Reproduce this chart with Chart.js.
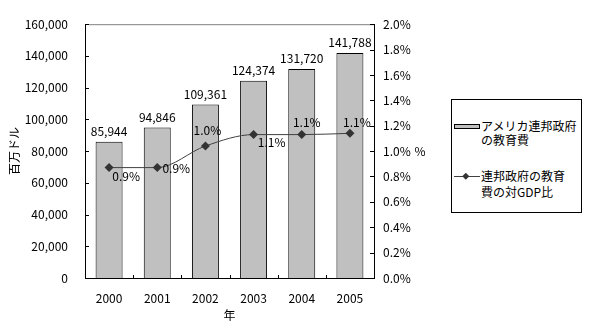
<!DOCTYPE html>
<html lang="ja">
<head>
    <meta charset="UTF-8">
    <title>アメリカ連邦政府の教育費</title>
    <script src="https://cdn.jsdelivr.net/npm/chart.js"></script>
    <style>
        body { margin: 0; background: #fff; font-family: "Noto Sans CJK JP", sans-serif; color: #000; }
        .wrap { position: relative; width: 594px; height: 331px; }
        .legend {
            position: absolute; left: 451px; top: 99px; width: 131px; height: 114px;
            border: 1px solid #000; box-sizing: border-box; background: #fff;
            font-size: 12px; line-height: 14px;
        }
        .legend .row { position: absolute; left: 29px; white-space: nowrap; }
        .legend .key { position: absolute; left: 1px; }
    </style>
</head>
<body>
<div class="wrap">
    <canvas id="chart" width="594" height="331"></canvas>
    <div class="legend">
        <svg class="key" style="top:23px" width="28" height="8">
            <rect x="1.5" y="1.5" width="25" height="4" fill="#c0c0c0" stroke="#000" stroke-width="1"/>
        </svg>
        <div class="row" style="top:19px">アメリカ連邦政府</div>
        <div class="row" style="top:33px">の教育費</div>
        <svg class="key" style="top:71px" width="28" height="10">
            <line x1="1" y1="5.5" x2="27" y2="5.5" stroke="#404040" stroke-width="1"/>
            <rect x="11" y="2" width="5" height="5" fill="#333" transform="rotate(45 13.5 4.5) translate(0 1)"/>
        </svg>
        <div class="row" style="top:69px">連邦政府の教育</div>
        <div class="row" style="top:85px">費の対GDP比</div>
    </div>
</div>
<script>
    // 年度と連邦政府の教育費（百万ドル）、対GDP比（%）
    const years = ['2000', '2001', '2002', '2003', '2004', '2005'];
    const spending = [85944, 94846, 109361, 124374, 131720, 141788];
    const gdpShare = [0.87, 0.87, 1.04, 1.13, 1.13, 1.14];
    const spendingTicks = [0, 20000, 40000, 60000, 80000, 100000, 120000, 140000, 160000];
    const shareTicks = [0, 0.2, 0.4, 0.6, 0.8, 1.0, 1.2, 1.4, 1.6, 1.8, 2.0];

    Chart.defaults.font.family = '"Noto Sans CJK JP", sans-serif';
    Chart.defaults.font.size = 12;
    Chart.defaults.color = '#000';

    // 値ラベル、内向きの目盛り、上辺の線、右軸の「%」
    const decorations = {
        id: 'decorations',
        afterDatasetsDraw(chart, args, opts) {
            const ctx = chart.ctx;
            ctx.save();
            ctx.font = '12px "Noto Sans CJK JP"';
            ctx.fillStyle = '#000';
            ctx.textAlign = 'center';

            ctx.textBaseline = 'alphabetic';
            chart.getDatasetMeta(0).data.forEach((bar, i) => {
                ctx.fillText(spending[i].toLocaleString('en-US'), bar.x, bar.y - 6);
            });

            ctx.textBaseline = 'middle';
            chart.getDatasetMeta(1).data.forEach((pt, i) => {
                const [dx, dy] = opts.lineLabelOffsets[i];
                ctx.fillText(gdpShare[i].toFixed(1) + '%', pt.x + dx, pt.y + dy);
            });
            ctx.restore();
        },
        afterDraw(chart) {
            const ctx = chart.ctx;
            const area = chart.chartArea;
            const x = chart.scales.x, y = chart.scales.y, y1 = chart.scales.y1;
            ctx.save();
            ctx.lineWidth = 1;

            ctx.strokeStyle = '#808080';
            ctx.beginPath();
            ctx.moveTo(area.left + 4, area.top + 0.5);
            ctx.lineTo(area.right, area.top + 0.5);
            ctx.stroke();

            ctx.strokeStyle = '#000';
            ctx.beginPath();
            ctx.moveTo(area.left, Math.round(area.bottom) + 0.5);
            ctx.lineTo(area.right, Math.round(area.bottom) + 0.5);
            y.ticks.forEach((t, i) => {
                const py = Math.round(y.getPixelForTick(i)) + 0.5;
                ctx.moveTo(area.left, py);
                ctx.lineTo(area.left + 4, py);
            });
            y1.ticks.forEach((t, i) => {
                const py = Math.round(y1.getPixelForTick(i)) + 0.5;
                ctx.moveTo(area.right - 4, py);
                ctx.lineTo(area.right, py);
            });
            for (let i = 0; i < years.length - 1; i++) {
                const px = Math.round((x.getPixelForValue(i) + x.getPixelForValue(i + 1)) / 2) + 0.5;
                ctx.moveTo(px, area.bottom);
                ctx.lineTo(px, area.bottom - 3);
            }
            ctx.stroke();

            ctx.font = '12px "Noto Sans CJK JP"';
            ctx.fillStyle = '#000';
            ctx.textAlign = 'center';
            ctx.textBaseline = 'middle';
            ctx.fillText('%', 420, (area.top + area.bottom) / 2);
            ctx.restore();
        }
    };

    const ctx = document.getElementById('chart').getContext('2d');
    new Chart(ctx, {
        type: 'bar',
        data: {
            labels: years,
            datasets: [{
                type: 'bar',
                label: 'アメリカ連邦政府の教育費',
                data: spending,
                yAxisID: 'y',
                backgroundColor: '#c0c0c0',
                borderColor: '#000',
                borderWidth: 1,
                borderSkipped: 'start',
                barPercentage: 0.56,
                categoryPercentage: 1,
                order: 2
            }, {
                type: 'line',
                label: '連邦政府の教育費の対GDP比',
                data: gdpShare,
                yAxisID: 'y1',
                borderColor: '#404040',
                borderWidth: 1,
                cubicInterpolationMode: 'monotone',
                pointStyle: 'rectRot',
                pointRadius: 4.5,
                pointBackgroundColor: '#333',
                pointBorderColor: '#333',
                pointBorderWidth: 0,
                order: 1
            }]
        },
        options: {
            responsive: false,
            animation: false,
            layout: { padding: { left: 0, right: 160, top: 17, bottom: 0 } },
            scales: {
                x: {
                    grid: { display: false, drawTicks: false },
                    border: { display: true, color: '#000' },
                    ticks: { padding: 13, maxRotation: 0 },
                    title: { display: true, text: '年', padding: { top: 0, bottom: 8 } },
                    afterFit(scale) { scale.height = 53; }
                },
                y: {
                    position: 'left',
                    min: 0,
                    max: 160000,
                    grid: { display: false, drawTicks: false },
                    border: { display: true, color: '#000' },
                    afterBuildTicks(scale) { scale.ticks = spendingTicks.map(v => ({ value: v })); },
                    ticks: { padding: 17, callback: v => v.toLocaleString('en-US') },
                    title: { display: true, text: '百万ドル', padding: { top: 7, bottom: 0 } },
                    afterFit(scale) { scale.width = 85; }
                },
                y1: {
                    position: 'right',
                    min: 0,
                    max: 2.0,
                    grid: { display: false, drawTicks: false },
                    border: { display: true, color: '#000' },
                    afterBuildTicks(scale) { scale.ticks = shareTicks.map(v => ({ value: v })); },
                    ticks: { padding: 9, callback: v => v.toFixed(1) + '%' },
                    afterFit(scale) { scale.width = 60; }
                }
            },
            plugins: {
                legend: { display: false },
                tooltip: { enabled: false },
                decorations: {
                    lineLabelOffsets: [[17, 9], [19, 1], [2, -16], [18, 8], [5, -12], [7, -11]]
                }
            }
        },
        plugins: [decorations]
    });
</script>
</body>
</html>
